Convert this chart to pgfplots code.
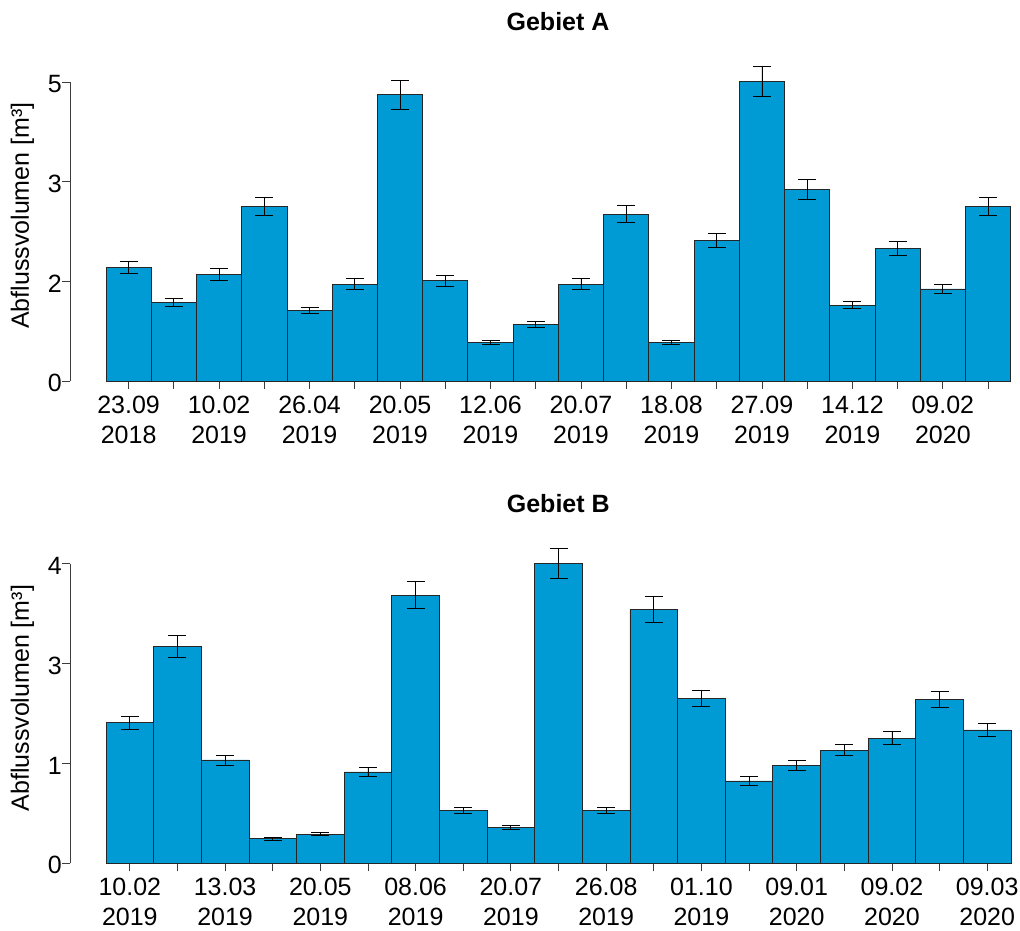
\documentclass[border=0pt]{standalone}
\usepackage{pgfplots}
\pgfplotsset{compat=1.18}
\usepackage{pgfplotstable}
\usepackage{fontspec}
\setmainfont{Liberation Sans}
\definecolor{barblue}{RGB}{0,155,212}
\definecolor{axgray}{RGB}{60,60,60}

\pgfplotstableread{
x y e
1 1.90 0.095
2 1.32 0.067
3 1.78 0.097
4 2.92 0.148
5 1.18 0.053
6 1.62 0.089
7 4.79 0.240
8 1.68 0.092
9 0.65 0.030
10 0.95 0.050
11 1.62 0.089
12 2.79 0.139
13 0.65 0.033
14 2.35 0.111
15 5.01 0.254
16 3.21 0.167
17 1.27 0.064
18 2.22 0.114
19 1.54 0.078
20 2.92 0.148
}\dataA

\pgfplotstableread{
x y e
1 1.88 0.087
2 2.89 0.147
3 1.38 0.067
4 0.33 0.018
5 0.39 0.020
6 1.22 0.060
7 3.58 0.180
8 0.71 0.038
9 0.48 0.031
10 4.00 0.200
11 0.71 0.038
12 3.39 0.171
13 2.20 0.111
14 1.10 0.060
15 1.31 0.067
16 1.51 0.076
17 1.67 0.085
18 2.19 0.107
19 1.78 0.085
}\dataB

\pgfplotsset{
  myaxis/.style={
    scale only axis, clip=false,
    axis y line*=left, axis x line*=bottom,
    x axis line style={draw=none},
    y axis line style={-, line width=0.8bp, draw=axgray},
    tick align=outside, major tick length=8bp,
    every tick/.style={axgray, line width=0.8bp},
    ymin=0,
    xticklabel style={align=center, anchor=north, inner sep=0pt, yshift=-7bp, font=\fontsize{25bp}{30bp}\selectfont},
    yticklabel style={anchor=east, inner sep=0pt, yshift=-2bp, font=\fontsize{25bp}{30bp}\selectfont},
    ybar, bar width=1, bar shift=0pt,
    /pgf/number format/assume math mode=true,
    ylabel={Abflussvolumen [m³]},
    every axis title/.style={anchor=base, font=\fontsize{25bp}{30bp}\selectfont\bfseries},
  },
  mybars/.style={fill=barblue, draw=black!85, line width=0.8bp,
    error bars/.cd, y dir=both, y explicit,
    error bar style={black, line width=0.8bp},
    error mark options={black, line width=0.8bp, mark size=9bp, rotate=90}},
}

\begin{document}
\begin{tikzpicture}[font=\fontsize{25bp}{30bp}\selectfont]
\path[use as bounding box] (0,0) rectangle (1020bp,931bp);

\begin{axis}[myaxis,
  at={(70bp,550bp)}, anchor=south west,
  width=940.7bp, height=299bp,
  xmin=-0.296, xmax=20.5, ymax=5,
  ytick={0,1.66667,3.33333,5}, yticklabels={0,2,3,5},
  xtick={1,...,20},
  xticklabels={{23.09\\2018},{},{10.02\\2019},{},{26.04\\2019},{},{20.05\\2019},{},{12.06\\2019},{},{20.07\\2019},{},{18.08\\2019},{},{27.09\\2019},{},{14.12\\2019},{},{09.02\\2020},{}},
  every axis y label/.style={at={(axis description cs:-0.0505,0.553)}, rotate=90, anchor=center},
  title={Gebiet A},
  title style={at={(axis description cs:0.5188,1.1706)}},
]
\addplot[mybars] table[x=x, y=y, y error=e] {\dataA};
\end{axis}

\begin{axis}[myaxis,
  at={(70bp,67.7bp)}, anchor=south west,
  width=941bp, height=299.6bp,
  xmin=-0.256, xmax=19.5, ymax=4,
  ytick={0,1.33333,2.66667,4}, yticklabels={0,1,3,4},
  xtick={1,...,19},
  xticklabels={{10.02\\2019},{},{13.03\\2019},{},{20.05\\2019},{},{08.06\\2019},{},{20.07\\2019},{},{26.08\\2019},{},{01.10\\2019},{},{09.01\\2020},{},{09.02\\2020},{},{09.03\\2020}},
  every axis y label/.style={at={(axis description cs:-0.0505,0.551)}, rotate=90, anchor=center},
  title={Gebiet B},
  title style={at={(axis description cs:0.5189,1.1702)}},
]
\addplot[mybars] table[x=x, y=y, y error=e] {\dataB};
\end{axis}
\end{tikzpicture}
\end{document}
